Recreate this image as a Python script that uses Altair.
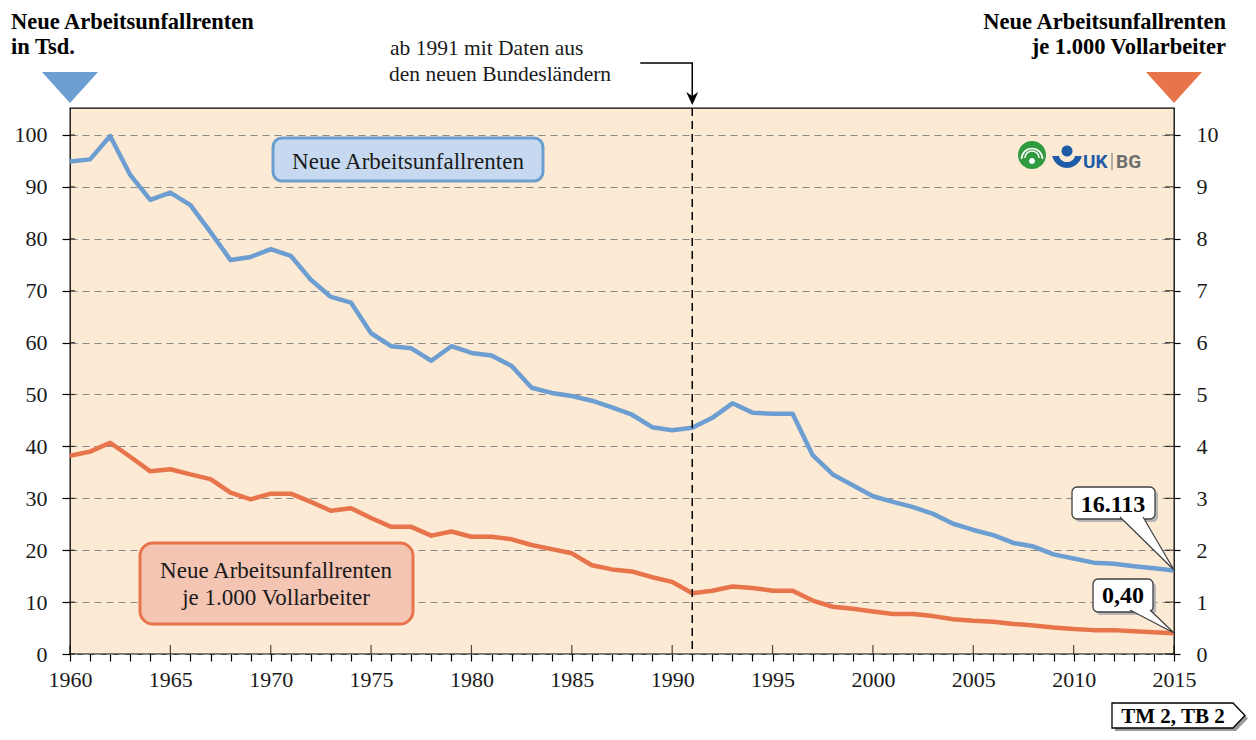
import altair as alt
import pandas as pd

# ---------------- data ----------------
years = list(range(1960, 2016))
renten_tsd = [94.9, 95.3, 99.8, 92.3, 87.5, 88.9, 86.5, 81.3, 75.9, 76.5,
              78.0, 76.7, 72.1, 68.8, 67.7, 61.8, 59.3, 58.9, 56.5, 59.3,
              58.0, 57.5, 55.5, 51.3, 50.3, 49.7, 48.8, 47.5, 46.1, 43.7,
              43.1, 43.6, 45.5, 48.3, 46.5, 46.3, 46.3, 38.3, 34.6, 32.5,
              30.4, 29.3, 28.3, 27.0, 25.1, 23.9, 22.9, 21.4, 20.7, 19.2,
              18.4, 17.6, 17.4, 16.9, 16.5, 16.1]
renten_je_1000 = [3.82, 3.90, 4.07, 3.80, 3.52, 3.56, 3.46, 3.37, 3.11, 2.98,
                  3.09, 3.09, 2.93, 2.76, 2.81, 2.62, 2.45, 2.45, 2.28, 2.36,
                  2.26, 2.26, 2.21, 2.10, 2.02, 1.94, 1.71, 1.63, 1.59, 1.48,
                  1.39, 1.17, 1.22, 1.30, 1.27, 1.22, 1.22, 1.03, 0.91, 0.87,
                  0.82, 0.77, 0.77, 0.73, 0.67, 0.64, 0.62, 0.58, 0.55, 0.51,
                  0.48, 0.46, 0.46, 0.44, 0.42, 0.40]
left_ticks = [0, 10, 20, 30, 40, 50, 60, 70, 80, 90, 100]
right_ticks = [0, 1, 2, 3, 4, 5, 6, 7, 8, 9, 10]
label_years = [1960, 1965, 1970, 1975, 1980, 1985, 1990, 1995, 2000, 2005, 2010, 2015]
boundary_year = [1991]
callout_blue = "16.113"
callout_orange = "0,40"

# ---------------- style ----------------
BLUE = "#6C9ED1"
ORANGE = "#E8744C"
BG = "#FCEAD4"
SERIF = "Liberation Serif"
W, H = 1104, 546
OX, OY = 70, 108  # page position of the plot origin


def px(x):
    return x - OX


def py(y):
    return y - OY


df = pd.DataFrame({"Jahr": years, "Tsd": renten_tsd, "Quote": renten_je_1000})
one = pd.DataFrame({"k": [0]})
xs = alt.Scale(domain=[1960, 2015], nice=False, zero=False)
x_axis = alt.Axis(values=years, format="d",
                  labelExpr="datum.value % 5 == 0 ? datum.label : ''",
                  tickSize=7, tickColor="black", tickWidth=1.2, labelPadding=8,
                  labelFlush=False, labelOverlap=False, domain=False, grid=False,
                  labelFont=SERIF, labelFontSize=22, labelColor="#1a1a1a")
X = alt.X("Jahr:Q", scale=xs, axis=x_axis, title=None)

blue = alt.Chart(df).mark_line(color=BLUE, strokeWidth=4.5, strokeJoin="round").encode(
    x=X,
    y=alt.Y("Tsd:Q", scale=alt.Scale(domain=[0, 105.2], nice=False),
            axis=alt.Axis(orient="left", values=left_ticks, tickSize=8, tickColor="black",
                          tickWidth=1.2, labelPadding=15, grid=True, gridColor="#8a8a8a",
                          gridDash=[7, 5], gridWidth=1, domain=False, labelFont=SERIF,
                          labelFontSize=22, labelColor="#1a1a1a", labelFlush=False),
            title=None),
)
orange = alt.Chart(df).mark_line(color=ORANGE, strokeWidth=4.5, strokeJoin="round").encode(
    x=X,
    y=alt.Y("Quote:Q", scale=alt.Scale(domain=[0, 10.52], nice=False),
            axis=alt.Axis(orient="right", values=right_ticks, format="d", tickSize=6,
                          tickColor="black", tickWidth=1.2, labelPadding=16, grid=False,
                          domain=False, labelFont=SERIF, labelFontSize=22,
                          labelColor="#1a1a1a", labelFlush=False),
            title=None),
)

# inner parts of the ticks (crossing the frame)
tdf = pd.DataFrame({"v": left_ticks})
tick_y = alt.Y("v:Q", scale=alt.Scale(domain=[0, 105.2], nice=False), axis=None, title=None)
tick_left = alt.Chart(tdf).mark_tick(orient="horizontal", size=5, thickness=1.2, color="black").encode(
    y=tick_y, x=alt.value(2.5))
tick_right = alt.Chart(tdf).mark_tick(orient="horizontal", size=9, thickness=1.2, color="black").encode(
    y=tick_y, x=alt.value(W - 4.5))
mdf = pd.DataFrame({"Jahr": label_years})
tick_major = alt.Chart(mdf).mark_tick(orient="vertical", size=9, thickness=1.2, color="black").encode(
    x=X, y=alt.value(H - 4.5))

# 1991 boundary
bdf = pd.DataFrame({"Jahr": boundary_year})
vline = alt.Chart(bdf).mark_rule(color="black", strokeWidth=1.5, strokeDash=[8, 5]).encode(
    x=X, y=alt.value(0), y2=alt.value(H))
arrow_line = alt.Chart(bdf).mark_point(shape="M-52,-42L0,-42L0,-8", size=4, filled=False,
                                       stroke="black", strokeWidth=1.5, opacity=1).encode(
    x=X, y=alt.value(py(105)))
arrow_head = alt.Chart(bdf).mark_point(shape="M-6,-13L0,0L6,-13L0,-9Z", size=4, filled=True,
                                       fill="black", strokeWidth=0, opacity=1).encode(
    x=X, y=alt.value(py(105)))


def text(lines, x, y, size, bold=False, align="left", color="#1a1a1a", font=SERIF):
    kw = dict(align=align, baseline="alphabetic", font=font, fontSize=size,
              fontWeight="bold" if bold else "normal", color=color)
    return alt.Chart(one).mark_text(text=lines, **kw).encode(
        x=alt.value(px(x)), y=alt.value(py(y)))


def rect(x1, x2, y1, y2, fill, stroke=None, sw=0, r=0):
    kw = dict(fill=fill, cornerRadius=r)
    if stroke is not None:
        kw.update(stroke=stroke, strokeWidth=sw)
    return alt.Chart(one).mark_rect(**kw).encode(
        x=alt.value(px(x1)), x2=alt.value(px(x2)), y=alt.value(py(y1)), y2=alt.value(py(y2)))


def shape(path, x, y, fill=None, stroke=None, sw=1.0):
    kw = dict(shape=path, size=4, opacity=1)
    if fill is not None:
        kw.update(filled=True, fill=fill)
    else:
        kw.update(filled=False)
    if stroke is not None:
        kw.update(stroke=stroke, strokeWidth=sw)
    else:
        kw.update(strokeWidth=0)
    return alt.Chart(one).mark_point(**kw).encode(x=alt.value(px(x)), y=alt.value(py(y)))


TM = "M-63,-12.5L58,-12.5L70,0L58,12.5L-63,12.5Z"

layers = [
    rect(273, 543, 138, 181, "#C6D9F0", BLUE, 3, 9),
    text("Neue Arbeitsunfallrenten", 408, 169, 23, align="center"),
    rect(140, 413, 543, 624, "#F5C5B3", ORANGE, 3, 13),
    text("Neue Arbeitsunfallrenten", 276, 578, 23, align="center"),
    text("je 1.000 Vollarbeiter", 276, 605, 23, align="center"),
    blue, orange, tick_left, tick_right, tick_major,
    vline, arrow_line, arrow_head,
    text("ab 1991 mit Daten aus", 390, 55, 21.5),
    text("den neuen Bundesländern", 389, 81, 21.5),
    # titles and markers
    text("Neue Arbeitsunfallrenten", 11, 29, 22.5, bold=True, color="black"),
    text("in Tsd.", 11, 54, 22.5, bold=True, color="black"),
    text("Neue Arbeitsunfallrenten", 1226, 29, 22.5, bold=True, align="right", color="black"),
    text("je 1.000 Vollarbeiter", 1226, 54, 22.5, bold=True, align="right", color="black"),
    shape("M-28,-15.5L28,-15.5L0,15.5Z", 70, 87.5, fill=BLUE),
    shape("M-28,-15.5L28,-15.5L0,15.5Z", 1174, 87.5, fill=ORANGE),
    # callouts
    rect(1075, 1158, 490, 522, "#b5b5b5", r=5),
    rect(1072, 1155, 487, 519, "white", "#404040", 1.3, 5),
    shape("M-54,-53L0,0L-31,-53", 1174, 570, fill="white", stroke="#404040", sw=1.2),
    text(callout_blue, 1113, 512, 24, bold=True, align="center", color="black"),
    rect(1096, 1156, 582, 615, "#b5b5b5", r=5),
    rect(1093, 1153, 579, 612, "white", "#404040", 1.3, 5),
    shape("M-44,-23L0,0L-24,-23", 1174, 633, fill="white", stroke="#404040", sw=1.2),
    text(callout_orange, 1123, 603, 24, bold=True, align="center", color="black"),
    # logo
    shape("M-14,0A14,14 0 1 1 14,0A14,14 0 1 1 -14,0Z", 1032, 155, fill="#2F9A3E"),
    shape("M-10.5,4A10.5,10.5 0 1 1 10.5,4", 1032, 155, stroke="white", sw=1.6),
    shape("M-7,3A7,7 0 1 1 7,3", 1032, 155, stroke="white", sw=1.6),
    shape("M-3,0A3,3 0 1 1 3,0A3,3 0 1 1 -3,0Z", 1032, 161, fill="white"),
    shape("M-5.5,0A5.5,5.5 0 1 1 5.5,0A5.5,5.5 0 1 1 -5.5,0Z", 1067, 151, fill="#1E5BA8"),
    shape("M-15,-4C-10,12 10,12 15,-4L8,-4C6,4 -6,4 -8,-4Z", 1067, 160, fill="#1E5BA8"),
    text("UK", 1083, 168, 19, bold=True, color="#1E5BA8", font="Roboto"),
    text("BG", 1116, 168, 19, bold=True, color="#6E6E6E", font="Roboto"),
    alt.Chart(one).mark_rule(color="#8a8a8a", strokeWidth=1.3).encode(
        x=alt.value(px(1112)), y=alt.value(py(153)), y2=alt.value(py(170))),
    # TM box
    shape(TM, 1178, 718.5, fill="#9a9a9a"),
    shape(TM, 1175, 715.5, fill="white", stroke="black", sw=1.3),
    text("TM 2, TB 2", 1173, 723, 21, bold=True, align="center", color="black"),
]

chart = alt.layer(*layers).resolve_scale(y="independent").properties(
    width=W, height=H,
    autosize=alt.AutoSizeParams(type="none"),
    padding={"left": 62, "top": 100, "right": 74, "bottom": 78},
    background="white",
).configure_view(fill=BG, stroke="black", strokeWidth=1.3)

chart.save("out.html", embed_options={"renderer": "svg", "actions": False})
